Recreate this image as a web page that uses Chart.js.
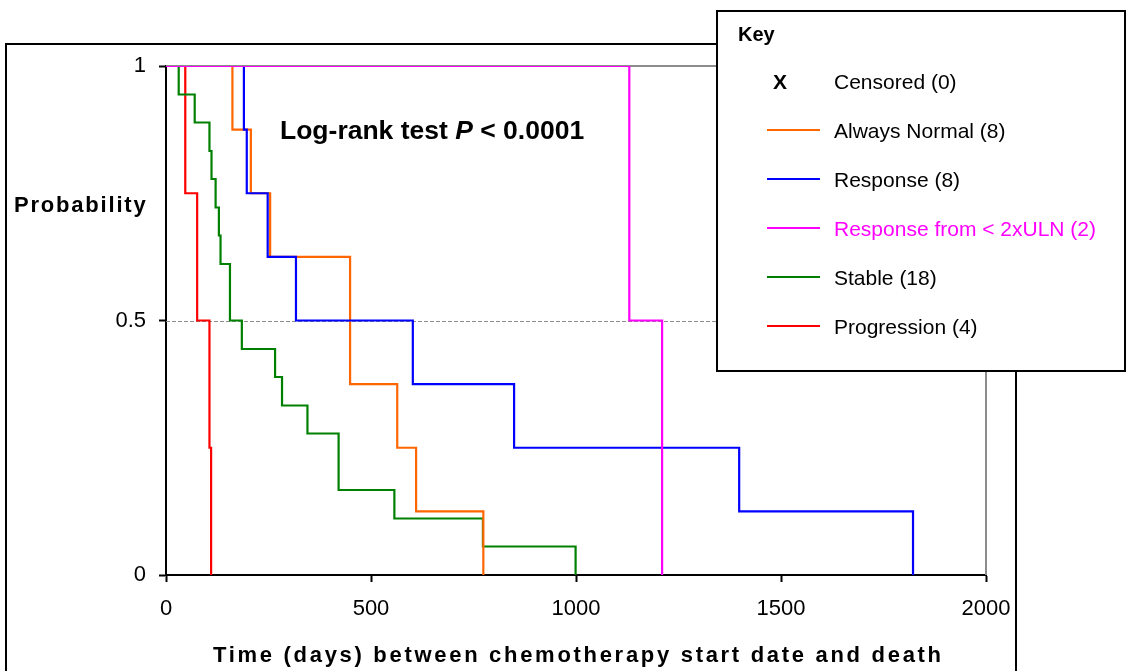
<!DOCTYPE html>
<html>
<head>
<meta charset="utf-8">
<title>Kaplan-Meier</title>
<script src="https://cdn.jsdelivr.net/npm/chart.js@4.4.0/dist/chart.umd.min.js"></script>
<style>
  body { margin: 0; background: #fff; }
  #wrap { width: 1127px; height: 671px; }
</style>
</head>
<body>
<div id="wrap"><canvas id="kmChart" width="1127" height="671"></canvas></div>
<script>
// Datos (días, supervivencia)
const normalDays = [0, 162, 207, 254, 449, 564, 610, 774];
const normalSurv = [1, 0.875, 0.75, 0.625, 0.375, 0.25, 0.125, 0];

const responseDays = [0, 190, 197, 248, 317, 602, 849, 1398, 1822];
const responseSurv = [1, 0.875, 0.75, 0.625, 0.5, 0.375, 0.25, 0.125, 0];

const lowRespDays = [0, 1130, 1210];
const lowRespSurv = [1, 0.5, 0];

const stableDays = [0, 31, 70, 106, 111, 121, 129, 133, 156, 156, 185, 266, 283, 345, 421, 421, 557, 773, 999];
const stableSurv = [1, 0.944, 0.889, 0.833, 0.778, 0.722, 0.667, 0.611, 0.556, 0.5, 0.444, 0.389, 0.333, 0.278, 0.222, 0.167, 0.111, 0.056, 0];

const progDays = [0, 47, 76, 106, 110];
const progSurv = [1, 0.75, 0.5, 0.25, 0];

const xTicks = [0, 500, 1000, 1500, 2000];
const yTicks = [0, 0.5, 1];

const legendItems = [
    { label: 'Always Normal (8)', color: '#FF6600' },
    { label: 'Response (8)', color: '#0000FF' },
    { label: 'Response from < 2xULN (2)', color: '#FF00FF' },
    { label: 'Stable (18)', color: '#008000' },
    { label: 'Progression (4)', color: '#FF0000' }
];

const FONT = "'Liberation Sans', Arial, sans-serif";

function toPoints(days, surv) {
    return days.map((d, i) => ({ x: d, y: surv[i] }));
}

function curve(idx, days, surv, order) {
    return {
        label: legendItems[idx].label,
        data: toPoints(days, surv),
        borderColor: legendItems[idx].color,
        borderWidth: 2.2,
        stepped: 'before',
        pointRadius: 0,
        fill: false,
        order: order
    };
}

// Marco, rejilla, textos y leyenda dibujados a mano
const decorations = {
    id: 'decorations',
    beforeDraw(chart) {
        const ctx = chart.ctx;
        ctx.save();
        ctx.fillStyle = '#fff';
        ctx.fillRect(0, 0, chart.width, chart.height);
        ctx.strokeStyle = '#000';
        ctx.lineWidth = 2;
        ctx.strokeRect(6, 44, 1010, 700);
        ctx.restore();
    },
    beforeDatasetsDraw(chart) {
        const ctx = chart.ctx;
        const a = chart.chartArea;
        const y = chart.scales.y;
        ctx.save();
        ctx.strokeStyle = '#8c8c8c';
        ctx.lineWidth = 1;
        ctx.setLineDash([4, 2]);
        const yHalf = Math.round(y.getPixelForValue(0.5)) + 0.5;
        ctx.beginPath();
        ctx.moveTo(a.left, yHalf);
        ctx.lineTo(a.right, yHalf);
        ctx.stroke();
        ctx.setLineDash([]);
        ctx.lineWidth = 2;
        ctx.beginPath();
        ctx.moveTo(a.left, a.top);
        ctx.lineTo(a.right, a.top);
        ctx.lineTo(a.right, a.bottom);
        ctx.stroke();
        ctx.restore();
    },
    afterDraw(chart) {
        const ctx = chart.ctx;
        ctx.save();
        ctx.fillStyle = '#000';
        ctx.textBaseline = 'alphabetic';

        // Texto del test
        ctx.font = 'bold 26.5px ' + FONT;
        let x = 280;
        const part1 = 'Log-rank test ';
        ctx.fillText(part1, x, 139);
        x += ctx.measureText(part1).width;
        ctx.font = 'italic bold 26.5px ' + FONT;
        ctx.fillText('P', x, 139);
        x += ctx.measureText('P').width;
        ctx.font = 'bold 26.5px ' + FONT;
        ctx.fillText(' < 0.0001', x, 139);

        // Títulos de ejes
        ctx.font = 'bold 22px ' + FONT;
        ctx.letterSpacing = '1.8px';
        ctx.fillText('Probability', 14, 212);
        ctx.letterSpacing = '2.7px';
        ctx.fillText('Time (days) between chemotherapy start date and death', 213, 662);
        ctx.letterSpacing = '0px';

        // Leyenda
        ctx.fillStyle = '#fff';
        ctx.fillRect(716, 10, 410, 362);
        ctx.strokeStyle = '#000';
        ctx.lineWidth = 2;
        ctx.strokeRect(717, 11, 408, 360);

        ctx.fillStyle = '#000';
        ctx.font = 'bold 20px ' + FONT;
        ctx.fillText('Key', 738, 41);

        ctx.textBaseline = 'middle';
        ctx.font = 'bold 21px ' + FONT;
        ctx.textAlign = 'center';
        ctx.fillText('X', 780, 83);
        ctx.textAlign = 'left';
        ctx.font = '21px ' + FONT;
        ctx.fillText('Censored (0)', 834, 83);

        const rowY = [131, 180, 229, 278, 327];
        legendItems.forEach((item, i) => {
            ctx.strokeStyle = item.color;
            ctx.lineWidth = 2;
            ctx.beginPath();
            ctx.moveTo(767, rowY[i] - 1);
            ctx.lineTo(820, rowY[i] - 1);
            ctx.stroke();
            ctx.fillStyle = i === 2 ? '#FF00FF' : '#000';
            ctx.fillText(item.label, 834, rowY[i] + 1);
        });
        ctx.restore();
    }
};

const ctx = document.getElementById('kmChart').getContext('2d');
const kmChart = new Chart(ctx, {
    type: 'line',
    data: {
        datasets: [
            curve(0, normalDays, normalSurv, 2),
            curve(1, responseDays, responseSurv, 1),
            curve(2, lowRespDays, lowRespSurv, 0),
            curve(3, stableDays, stableSurv, 3),
            curve(4, progDays, progSurv, 4)
        ]
    },
    options: {
        responsive: false,
        animation: false,
        events: [],
        layout: { padding: { top: 66, right: 141, bottom: 0, left: 0 } },
        plugins: {
            legend: { display: false },
            tooltip: { enabled: false }
        },
        scales: {
            x: {
                type: 'linear',
                min: 0,
                max: 2000,
                afterFit: scale => { scale.height = 96; },
                afterBuildTicks: scale => { scale.ticks = xTicks.map(v => ({ value: v })); },
                grid: {
                    drawOnChartArea: false,
                    drawTicks: true,
                    tickLength: 7,
                    tickColor: '#000',
                    tickWidth: 2
                },
                border: { color: '#000', width: 2 },
                ticks: {
                    color: '#000',
                    padding: 14,
                    maxRotation: 0,
                    font: { family: FONT, size: 22 },
                    callback: v => String(v)
                }
            },
            y: {
                type: 'linear',
                min: 0,
                max: 1,
                afterFit: scale => { scale.width = 166; },
                afterBuildTicks: scale => { scale.ticks = yTicks.map(v => ({ value: v })); },
                grid: {
                    drawOnChartArea: false,
                    drawTicks: true,
                    tickLength: 7,
                    tickColor: '#000',
                    tickWidth: 2
                },
                border: { color: '#000', width: 2 },
                ticks: {
                    color: '#000',
                    padding: 13,
                    font: { family: FONT, size: 22 },
                    callback: v => String(v)
                }
            }
        }
    },
    plugins: [decorations]
});
</script>
</body>
</html>
